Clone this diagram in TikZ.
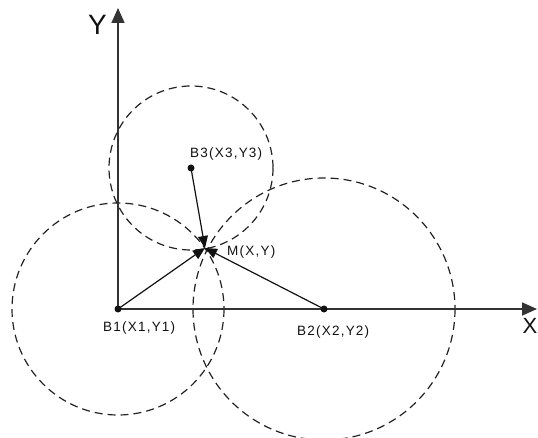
\documentclass[tikz,border=0pt]{standalone}
\usepackage{fontspec}
\setsansfont{Liberation Sans}
\usetikzlibrary{positioning, arrows.meta}
\newfontfamily\lblfont[LetterSpace=9]{Liberation Sans}
\definecolor{ink}{HTML}{111111}
\definecolor{axisgray}{HTML}{333333}
\definecolor{dashgray}{HTML}{222222}
\tikzset{
  axis/.style={-{Triangle[length=15pt, width=13pt]}, line width=1.7pt, color=axisgray},
  ray/.style={-{Triangle[length=12pt, width=10pt]}, line width=1.2pt, color=ink},
  rangecirc/.style={dashed, dash pattern=on 8pt off 5pt, line width=1.2pt, color=dashgray},
  dotpt/.style={circle, fill=ink, inner sep=0pt, minimum size=7pt},
  lbl/.style={font=\lblfont\fontsize{13.5}{16}\selectfont, text=ink, inner sep=0pt},
  axlbl/.style={font=\sffamily\fontsize{28}{30}\selectfont, text=ink, inner sep=0pt},
}
\begin{document}
\begin{tikzpicture}[x=1pt, y=-1pt]
  \useasboundingbox (0,0) rectangle (538,438);
  % stations and the target
  \coordinate (b1) at (118,309);
  \coordinate (b2) at (324,309);
  \coordinate (b3) at (191,168);
  \coordinate (m) at (205,248);
  \coordinate (xend) at (537,309);
  \coordinate (yend) at (118,8);
  % ranges
  \draw[rangecirc] (b1) circle[radius=106];
  \draw[rangecirc] (b2) circle[radius=131];
  \draw[rangecirc] (b3) circle[radius=82];
  % axes
  \draw[axis] (b1) -- (xend);
  \draw[axis] (b1) -- (yend);
  \node[axlbl, anchor=base west] (ylbl) at (88,35) {Y};
  \node[axlbl, anchor=base east, font=\sffamily\fontsize{22}{24}\selectfont] (xlbl) at (537.5,334) {X};
  % distances to M
  \draw[ray] (b1) -- (m);
  \draw[ray] (b2) -- (m);
  \draw[ray] (b3) -- (m);
  \node[dotpt] (p1) at (b1) {};
  \node[dotpt] (p2) at (b2) {};
  \node[dotpt] (p3) at (b3) {};
  \node[lbl, anchor=base west] (l1) at (103,331) {B1(X1,Y1)};
  \node[lbl, anchor=base west] (l2) at (297,335) {B2(X2,Y2)};
  \node[lbl, anchor=base west] (l3) at (190,158) {B3(X3,Y3)};
  \node[lbl, anchor=base west] (lm) at (227,256) {M(X,Y)};
\end{tikzpicture}
\end{document}
